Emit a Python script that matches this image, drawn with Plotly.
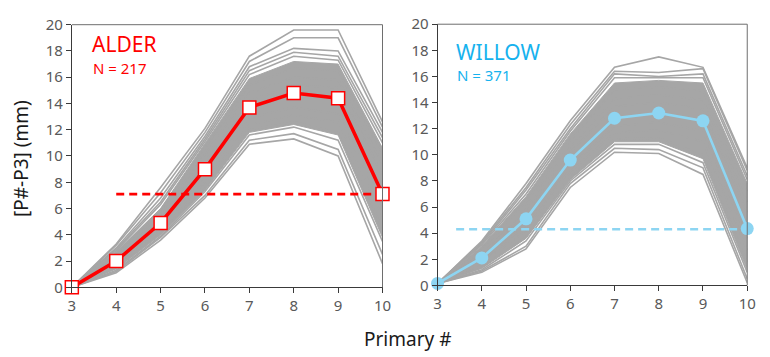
import plotly.graph_objects as go

# Primary feather positions (P3..P10)
primary = [3, 4, 5, 6, 7, 8, 9, 10]

# ---- ALDER ----
alder_mean = [0.0, 2.0, 4.9, 9.0, 13.7, 14.8, 14.4, 7.1]
alder_ref = 7.1
alder_core_hi = [0.0, 2.7, 6.0, 10.9, 15.9, 17.2, 17.0, 10.6]
alder_core_lo = [0.0, 1.4, 4.0, 7.4, 11.8, 12.4, 11.6, 3.8]
alder_birds = [
    [0.0, 3.3, 7.6, 12.1, 17.6, 19.6, 19.6, 12.6],
    [0.0, 3.2, 7.2, 11.8, 17.2, 19.0, 19.0, 12.2],
    [0.0, 3.0, 6.8, 11.5, 16.8, 18.2, 18.0, 11.8],
    [0.0, 2.9, 6.5, 11.3, 16.5, 17.9, 17.6, 11.4],
    [0.0, 2.8, 6.3, 11.1, 16.2, 17.6, 17.3, 11.0],
    [0.0, 2.6, 5.9, 10.6, 15.4, 16.7, 16.5, 10.2],
    [0.0, 2.4, 5.6, 10.1, 14.8, 16.0, 15.8, 9.4],
    [0.0, 2.2, 5.3, 9.6, 14.2, 15.4, 15.2, 8.6],
    [0.0, 1.8, 4.6, 8.5, 12.9, 13.7, 13.2, 6.2],
    [0.0, 1.6, 4.3, 8.0, 12.4, 13.1, 12.6, 5.4],
    [0.0, 1.5, 4.1, 7.6, 12.0, 12.6, 11.8, 4.5],
    [0.0, 1.3, 3.9, 7.3, 11.6, 12.2, 11.2, 3.5],
    [0.0, 1.2, 3.8, 7.0, 11.2, 11.7, 10.5, 2.5],
    [0.0, 1.1, 3.6, 6.8, 10.9, 11.3, 10.0, 1.8],
]

# ---- WILLOW ----
willow_mean = [0.15, 2.1, 5.1, 9.6, 12.8, 13.2, 12.6, 4.35]
willow_ref = 4.3
willow_core_hi = [0.15, 3.0, 6.8, 11.6, 15.5, 15.7, 15.5, 7.8]
willow_core_lo = [0.15, 1.3, 3.6, 8.1, 11.0, 11.0, 9.7, 1.2]
willow_birds = [
    [0.15, 3.4, 7.8, 12.6, 16.7, 17.5, 16.7, 9.0],
    [0.15, 3.3, 7.5, 12.3, 16.4, 16.3, 16.6, 8.8],
    [0.15, 3.2, 7.3, 12.0, 16.2, 16.0, 16.2, 8.4],
    [0.15, 3.1, 7.0, 11.8, 15.9, 15.9, 15.9, 8.1],
    [0.15, 2.8, 6.4, 11.1, 15.0, 15.2, 14.9, 7.2],
    [0.15, 2.6, 6.0, 10.6, 14.3, 14.6, 14.2, 6.4],
    [0.15, 2.4, 5.6, 10.2, 13.7, 14.0, 13.5, 5.6],
    [0.15, 1.9, 4.6, 9.1, 12.2, 12.5, 11.8, 3.6],
    [0.15, 1.7, 4.2, 8.7, 11.7, 11.9, 11.0, 2.7],
    [0.15, 1.4, 3.7, 8.3, 11.2, 11.3, 10.0, 1.8],
    [0.15, 1.2, 3.4, 8.0, 10.8, 10.8, 9.4, 1.0],
    [0.15, 1.1, 3.0, 7.8, 10.5, 10.4, 9.0, 0.5],
    [0.15, 1.0, 2.8, 7.5, 10.2, 10.1, 8.5, 0.2],
]

GRAY = "#A6A6A6"
RED = "#FF0000"
BLUE_LINE = "#8DD5F2"
BLUE_TEXT = "#16B2EE"
FONT = "Noto Sans"

fig = go.Figure()


def marker_style(kind, color):
    if kind == "square":
        return dict(symbol="square", size=13, color="white",
                    line=dict(color=color, width=1.5))
    return dict(symbol="circle", size=13, color=color,
                line=dict(color=color, width=0))


def add_panel(xa, ya, core_hi, core_lo, birds, mean, ref, ref_x0, color, marker):
    # dense core of individual profiles
    fig.add_trace(go.Scatter(x=primary, y=core_lo, mode="lines",
                             line=dict(color=GRAY, width=1),
                             xaxis=xa, yaxis=ya, hoverinfo="skip"))
    fig.add_trace(go.Scatter(x=primary, y=core_hi, mode="lines",
                             line=dict(color=GRAY, width=1), fill="tonexty",
                             fillcolor=GRAY, xaxis=xa, yaxis=ya,
                             hoverinfo="skip"))
    for b in birds:
        fig.add_trace(go.Scatter(x=primary, y=b, mode="lines",
                                 line=dict(color=GRAY, width=1.6),
                                 xaxis=xa, yaxis=ya, hoverinfo="skip"))
    # reference level
    fig.add_trace(go.Scatter(x=[ref_x0, 10], y=[ref, ref], mode="lines",
                             line=dict(color=color, width=2.6, dash="8px,5px"),
                             xaxis=xa, yaxis=ya, hoverinfo="skip"))
    # mean profile
    fig.add_trace(go.Scatter(x=primary, y=mean, mode="lines+markers",
                             line=dict(color=color,
                                       width=3.5 if marker == "square" else 2.6),
                             marker=marker_style(marker, color),
                             cliponaxis=False, xaxis=xa, yaxis=ya))


add_panel("x", "y", alder_core_hi, alder_core_lo, alder_birds,
          alder_mean, alder_ref, 4.0, RED, "square")
add_panel("x2", "y2", willow_core_hi, willow_core_lo, willow_birds,
          willow_mean, willow_ref, 3.42, BLUE_LINE, "circle")

W, H = 770, 357
left_dom = [69 / W, 385 / W]
right_dom = [441 / W, 756 / W]
left_ydom = [1 - 292.7 / H, 1 - 14.5 / H]
right_ydom = [1 - 290.7 / H, 1 - 14 / H]

xaxis_common = dict(range=[3, 10], tickvals=primary, showgrid=False,
                    zeroline=False, showline=True, linecolor="#3A3A3A",
                    linewidth=1, ticks="outside", ticklen=5, tickwidth=1,
                    tickcolor="#3A3A3A",
                    tickfont=dict(family=FONT, size=15, color="#595959"))
yaxis_common = dict(range=[0, 20], tickvals=list(range(0, 21, 2)),
                    showgrid=False, zeroline=False, showline=True,
                    linecolor="#3A3A3A", linewidth=1, ticks="outside",
                    ticklen=5, tickwidth=1, tickcolor="#3A3A3A",
                    tickfont=dict(family=FONT, size=15, color="#595959"))

fig.update_layout(
    width=W, height=H,
    margin=dict(l=0, r=0, t=0, b=0),
    paper_bgcolor="white", plot_bgcolor="white",
    showlegend=False,
    xaxis=dict(domain=left_dom, anchor="y", **xaxis_common),
    yaxis=dict(domain=left_ydom, anchor="x", **yaxis_common),
    xaxis2=dict(domain=right_dom, anchor="y2", **xaxis_common),
    yaxis2=dict(domain=right_ydom, anchor="x2", **yaxis_common),
)

# top and right frame edges
for xa, ya in (("x", "y"), ("x2", "y2")):
    fig.add_shape(type="line", xref=f"{xa} domain", yref=f"{ya} domain",
                  x0=0, x1=1, y0=1, y1=1, line=dict(color="#6E6E6E", width=1))
    fig.add_shape(type="line", xref=f"{xa} domain", yref=f"{ya} domain",
                  x0=1, x1=1, y0=0, y1=1, line=dict(color="#6E6E6E", width=1))

annotations = [
    dict(text="ALDER", x=87 / W, y=1 - 35 / H, xanchor="left",
         yanchor="middle", font=dict(family=FONT, size=21, color=RED)),
    dict(text="N = 217", x=88 / W, y=1 - 60 / H, xanchor="left",
         yanchor="middle", font=dict(family=FONT, size=15, color=RED)),
    dict(text="WILLOW", x=458 / W, y=1 - 43 / H, xanchor="left",
         yanchor="middle", font=dict(family=FONT, size=21, color=BLUE_TEXT)),
    dict(text="N = 371", x=459 / W, y=1 - 68 / H, xanchor="left",
         yanchor="middle", font=dict(family=FONT, size=15, color=BLUE_TEXT)),
    dict(text="[P#-P3] (mm)", x=18 / W, y=1 - 156 / H, textangle=-90,
         xanchor="center", yanchor="middle",
         font=dict(family=FONT, size=19, color="#1A1A1A")),
    dict(text="Primary #", x=410 / W, y=1 - 347 / H, xanchor="center",
         yanchor="middle", font=dict(family=FONT, size=19, color="#1A1A1A")),
]
for a in annotations:
    fig.add_annotation(xref="paper", yref="paper", showarrow=False, **a)

fig.write_html("out.html")
